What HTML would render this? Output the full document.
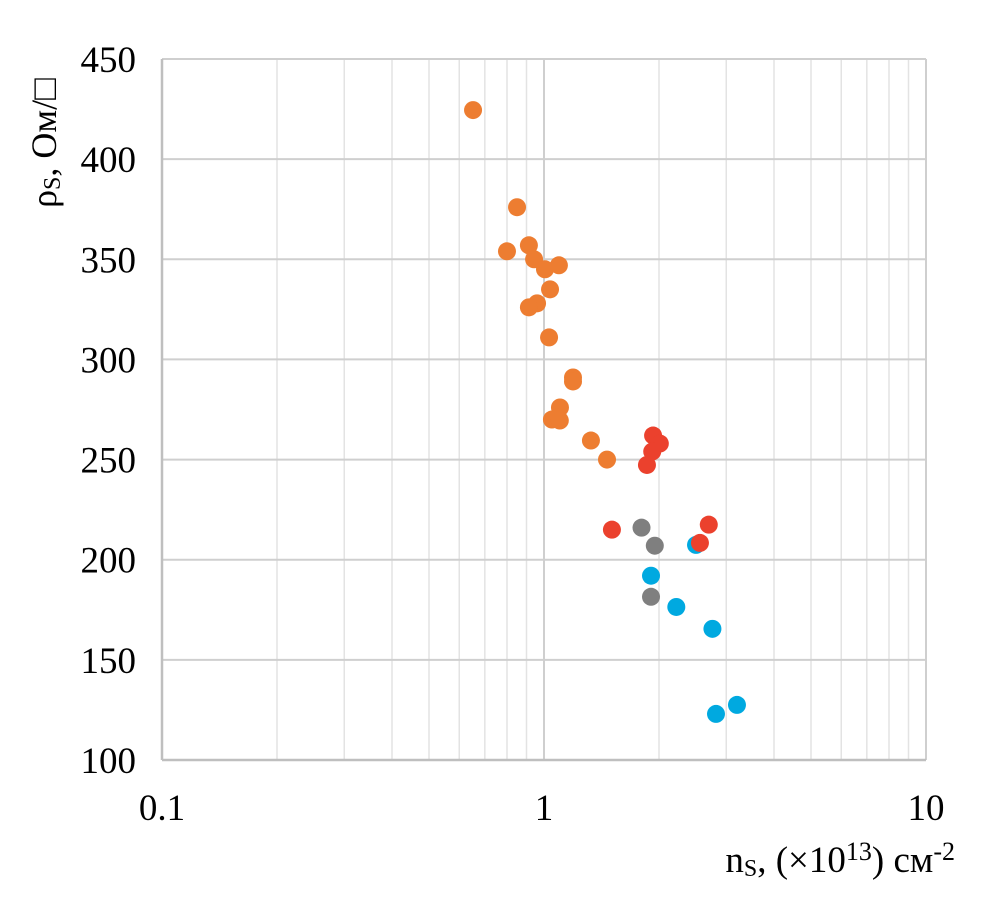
<!DOCTYPE html>
<html><head><meta charset="utf-8"><style>
body{margin:0;background:#fff;}
svg text{font-family:"Liberation Serif",serif;fill:#000;}
</style></head><body>
<svg id="c" width="988" height="915" xmlns="http://www.w3.org/2000/svg">
<g id="grid"></g><g id="pts"></g><g id="labels"></g>
<text x="955" y="872" font-size="37" text-anchor="end">n<tspan font-size="24" dy="4">S</tspan><tspan dy="-4">, (×10</tspan><tspan font-size="26" dy="-12">13</tspan><tspan dy="12">) см</tspan><tspan font-size="26" dy="-12">-2</tspan></text>
<text transform="translate(56,143) rotate(-90)" font-size="36" text-anchor="middle">ρ<tspan font-size="24" dy="4">S</tspan><tspan dy="-4">,  Ом/□</tspan></text>
</svg>
<script>
const yTicks=[100,150,200,250,300,350,400,450];
const xTicks=[0.1,1,10];
const xTickLabels=["0.1","1","10"];
const orangeX=[0.652,0.85,0.80,0.913,0.942,1.006,1.094,1.037,0.959,0.913,1.031,1.191,1.191,1.101,1.088,1.049,1.10,1.327,1.462];
const orangeY=[424.5,376,354,357,350,345,347,335,328,326,311,291,289,276,271,270,269.5,259.5,250];
const grayX=[1.80,1.95,1.906];
const grayY=[216,207,181.5];
const blueX=[2.50,1.906,2.22,2.76,2.82,3.20];
const blueY=[207.4,192,176.4,165.5,123,127.5];
const redX=[1.93,2.01,1.92,1.86,1.506,2.70,2.56];
const redY=[262,258,254,247.3,215,217.5,208.4];
const L=162,R=926,T=59,B=760;
const xs=v=>L+(Math.log10(v)+1)/2*(R-L);
const ys=v=>B-(v-100)/350*(B-T);
const NS="http://www.w3.org/2000/svg";
function mk(t,a,p){const e=document.createElementNS(NS,t);for(const k in a)e.setAttribute(k,a[k]);p.appendChild(e);return e;}
const g=document.getElementById('grid'),lab=document.getElementById('labels'),P=document.getElementById('pts');
for(let d=0.1;d<10;d*=10){for(let m=2;m<=9;m++){const x=xs(d*m);const l=mk('line',{x1:x,x2:x,y1:T,y2:B,stroke:'#e3e3e3','stroke-width':1.5},g);

}}
yTicks.forEach(v=>{const y=ys(v);const l=mk('line',{x1:L,x2:R,y1:y,y2:y,stroke:'#cfcfcf','stroke-width':2},g);


const t=mk('text',{x:136,y:y+13,'font-size':37,'text-anchor':'end'},lab);t.textContent=v;

});
xTicks.forEach((v,i)=>{const x=xs(v);const l=mk('line',{x1:x,x2:x,y1:T,y2:B,stroke:'#cfcfcf','stroke-width':2},g);


const t=mk('text',{x:x,y:820,'font-size':37,'text-anchor':'middle'},lab);t.textContent=xTickLabels[i];

});
const ax=mk('line',{x1:L,x2:R,y1:B,y2:B,stroke:'#bfbfbf','stroke-width':2.5},g);


const ay=mk('line',{x1:L,x2:L,y1:T,y2:B,stroke:'#bfbfbf','stroke-width':2.5},g);


function series(X,Y,c,name){X.forEach((v,i)=>{const e=mk('circle',{cx:xs(v),cy:ys(Y[i]),r:9,fill:c},P);

});}
series(orangeX,orangeY,'#ED7D31','orange-point');
series(grayX,grayY,'#7F7F7F','gray-point');
series(blueX,blueY,'#00A9E0','blue-point');
series(redX,redY,'#EB412D','red-point');
</script>
</body></html>
